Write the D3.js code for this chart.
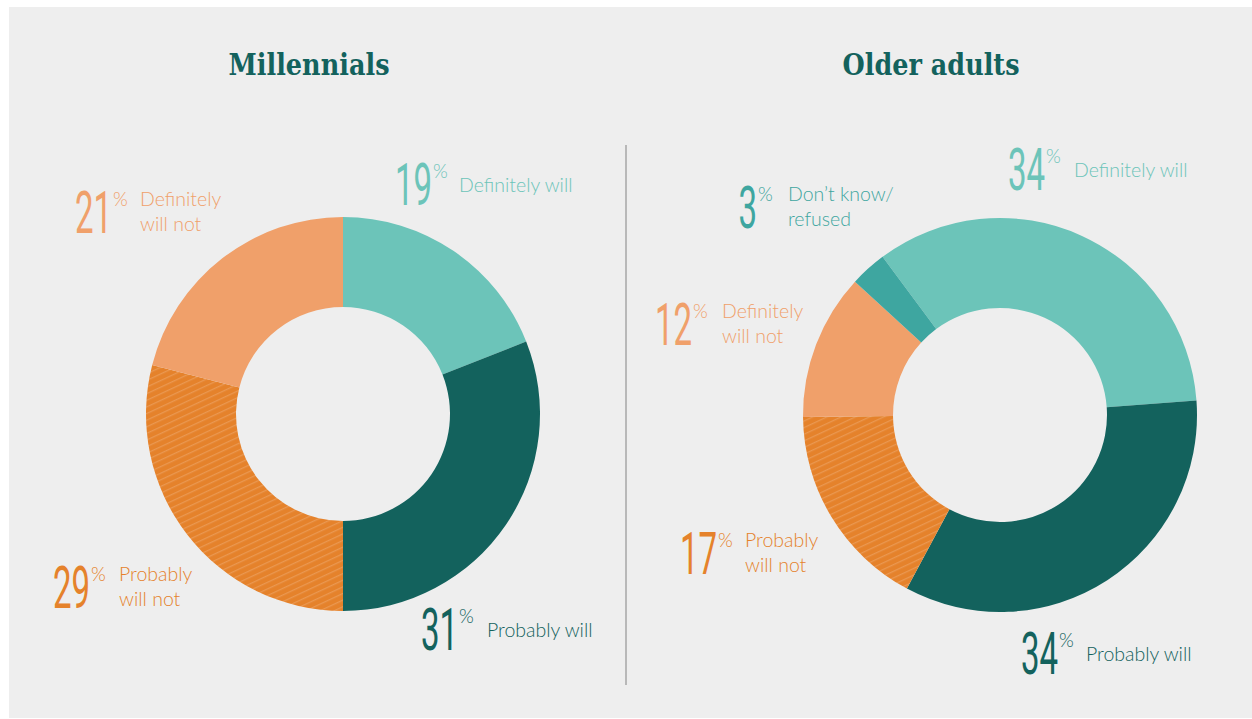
<!DOCTYPE html>
<html><head><meta charset="utf-8">
<script src="https://cdn.jsdelivr.net/npm/d3@7"></script>
<style>body{margin:0;background:#fff;} svg{display:block}</style>
</head><body>
<svg id="chart" width="1252" height="719"></svg>
<script>
// ---- data ----
const categories = ["Definitely will", "Probably will", "Probably will not", "Definitely will not", "Don’t know/ refused"];
const labelLines = [["Definitely will"], ["Probably will"], ["Probably", "will not"], ["Definitely", "will not"], ["Don’t know/", "refused"]];
const millennialsValues = [19, 31, 29, 21, 0];
const olderAdultsValues = [34, 34, 17, 12, 3];
const titles = ["Millennials", "Older adults"];
const colors = ["#6cc4b9", "#13625d", "#e5822b", "#f0a06a", "#3ea6a0"];

// ---- layout (not data) : [number right edge, number baseline, label x] ----
const W = 1252, H = 719;
const panels = [
  { title: titles[0], values: millennialsValues, cx: 343, cy: 414, titleX: 309, titleW: 161, start: 0,
    anchors: [[432, 205, 459], [458, 650, 487], [90, 608, 119], [112, 233, 140], null] },
  { title: titles[1], values: olderAdultsValues, cx: 1000, cy: 415, titleX: 931, titleW: 177, start: -36.6 * Math.PI / 180,
    anchors: [[1045, 190, 1074], [1058, 674, 1086], [717, 574, 745], [692, 345, 722], [757, 228, 788]] }
];
const R = 197, r = 107;
const numScaleX = 0.55;

const svg = d3.select("#chart");
svg.append("rect").attr("x", 9).attr("y", 7).attr("width", W - 9).attr("height", H - 8).attr("fill", "#eeeeee");

const defs = svg.append("defs");
const pat = defs.append("pattern").attr("id", "hatch").attr("patternUnits", "userSpaceOnUse")
  .attr("width", 6).attr("height", 6).attr("patternTransform", "rotate(-25)");
pat.append("rect").attr("width", 6).attr("height", 6).attr("fill", colors[2]);
pat.append("line").attr("x1", 0).attr("y1", 0.7).attr("x2", 6).attr("y2", 0.7)
  .attr("stroke", "#eb9c58").attr("stroke-width", 1.1);

const fillFor = i => i === 2 ? "url(#hatch)" : colors[i];

// divider
svg.append("line").attr("x1", 626).attr("x2", 626).attr("y1", 145).attr("y2", 685)
  .attr("stroke", "#b8b8b8").attr("stroke-width", 2);

const arc = d3.arc().innerRadius(r).outerRadius(R);

panels.forEach(p => {
  const data = categories.map((c, i) => ({ cat: c, value: p.values[i], i }));
  const pie = d3.pie().sort(null).value(d => d.value).startAngle(p.start).endAngle(p.start + 2 * Math.PI);
  const g = svg.append("g").attr("transform", `translate(${p.cx},${p.cy})`);
  g.selectAll("path").data(pie(data).filter(d => d.data.value > 0)).join("path")
    .attr("d", arc).attr("fill", d => fillFor(d.data.i));

  svg.append("text").attr("x", p.titleX).attr("y", 75).attr("text-anchor", "middle")
    .attr("font-family", "DejaVu Serif").attr("font-weight", "bold").attr("font-size", 29)
    .attr("fill", "#13625d").attr("textLength", p.titleW).attr("lengthAdjust", "spacingAndGlyphs")
    .text(p.title);

  data.forEach(d => {
    const a = p.anchors[d.i];
    if (!a || d.value <= 0) return;
    const col = colors[d.i];
    svg.append("text").attr("transform", `translate(${a[0]},${a[1]}) scale(${numScaleX},1)`)
      .attr("text-anchor", "end").attr("font-weight", 400)
      .attr("font-family", "Roboto").attr("font-size", 60).attr("fill", col).text(d.value);
    svg.append("text").attr("x", a[0] + 1).attr("y", a[1] - 27)
      .attr("font-family", "Lato").attr("font-weight", 300).attr("font-size", 19).attr("fill", col).text("%");
    const lines = labelLines[d.i];
    const t = svg.append("text").attr("font-family", "Lato").attr("font-weight", 300).attr("font-size", 19.5).attr("fill", col);
    const y0 = lines.length === 1 ? a[1] - 13 : a[1] - 27;
    lines.forEach((ln, k) => {
      t.append("tspan").attr("x", a[2]).attr("y", y0 + k * 25).text(ln);
    });
  });
});
</script>
</body></html>
